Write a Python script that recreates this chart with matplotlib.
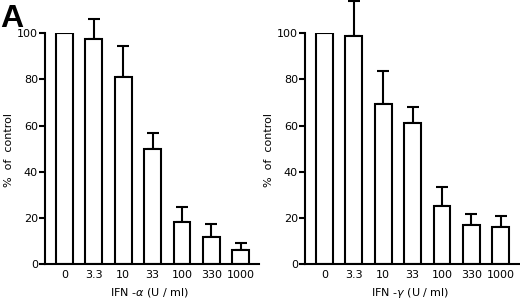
import numpy as np
import matplotlib
matplotlib.use('Agg')
import matplotlib.pyplot as plt

plt.rcParams['font.family'] = ['DejaVu Sans']

doses = ['0', '3.3', '10', '33', '100', '330', '1000']
alpha_mean = [100, 97.5, 81, 50, 18.4, 11.7, 6.1]
alpha_err = [0, 8.5, 13.2, 6.7, 6.5, 5.9, 3.0]
gamma_mean = [100, 98.5, 69.5, 61.2, 25.2, 16.9, 16.1]
gamma_err = [0, 15.2, 14.2, 6.6, 8.4, 5.0, 4.8]
xlabels = ['IFN -$\\alpha$ (U / ml)', 'IFN -$\\gamma$ (U / ml)']

fig = plt.figure(figsize=(5.2, 2.99), dpi=100)
lefts = [45 / 520, 305 / 520]
width = 214 / 520
bottom = 34.7 / 299
height = 231.3 / 299

x = np.arange(len(doses))
lw = 1.5
for i, (means, errs) in enumerate([(alpha_mean, alpha_err), (gamma_mean, gamma_err)]):
    ax = fig.add_axes([lefts[i], bottom, width, height])
    ax.bar(x, means, 0.57, color='white', edgecolor='black', linewidth=lw, zorder=2)
    err = np.array(errs)
    ax.errorbar(x[1:], np.array(means)[1:], yerr=[np.zeros(len(x) - 1), err[1:]],
                fmt='none', ecolor='black', elinewidth=lw, capsize=4.6, capthick=lw,
                clip_on=False, zorder=1)
    ax.set_xlim(-0.66, 6.62)
    ax.set_ylim(0, 100)
    ax.set_yticks([0, 20, 40, 60, 80, 100])
    ax.set_xticks(x)
    ax.set_xticklabels(doses)
    ax.tick_params(axis='x', length=0, pad=4, labelsize=8)
    ax.tick_params(axis='y', length=4, width=lw, pad=1, labelsize=8, direction='out')
    for s in ['top', 'right']:
        ax.spines[s].set_visible(False)
    for s in ['left', 'bottom']:
        ax.spines[s].set_linewidth(lw)
    ax.set_ylabel('%  of  control', fontsize=8, va='center', ha='center')
    ax.yaxis.set_label_coords(-0.17, 0.494)
    ax.set_xlabel(xlabels[i], fontsize=8, va='center', ha='center')
    ax.xaxis.set_label_coords(0.49, -0.124)

fig.text(0.0, 1 - 27 / 299, 'A', fontsize=23, fontweight='bold', va='baseline', ha='left',
         family='Liberation Sans')

fig.savefig('out.png', dpi=100)
